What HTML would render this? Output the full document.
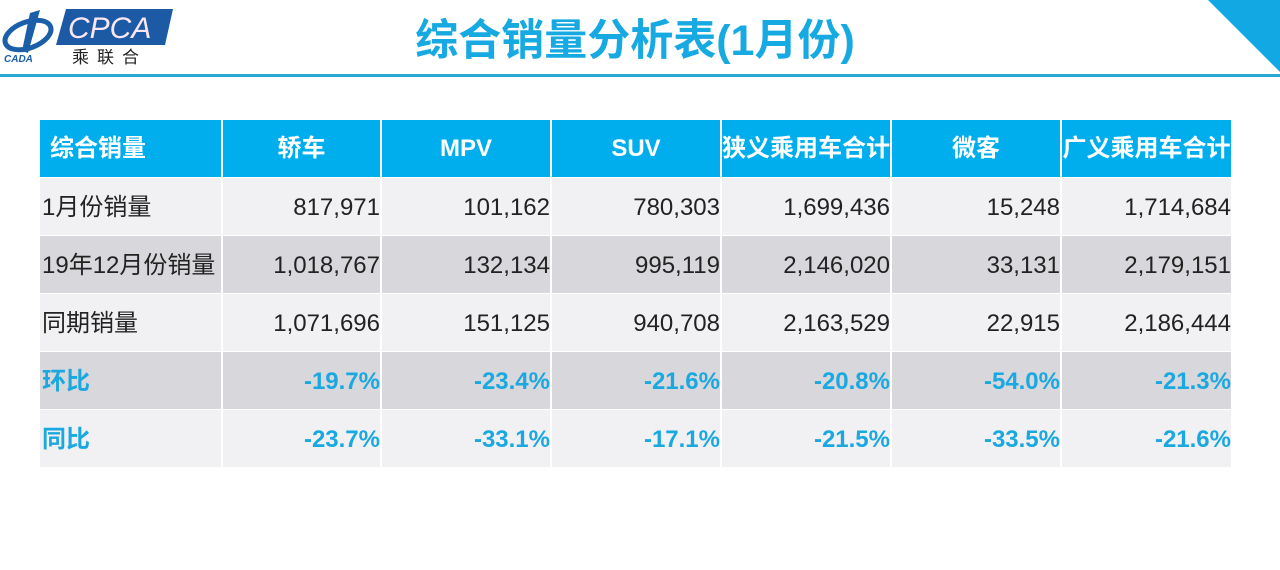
<!DOCTYPE html>
<html><head><meta charset="utf-8"><style>
body{margin:0;width:1280px;height:570px;background:#fff;position:relative;overflow:hidden;font-family:"Liberation Sans","Noto Sans CJK SC",sans-serif}
.title{position:absolute;left:0;width:1270px;top:6px;text-align:center;font-size:43px;font-weight:bold;color:#17a9e1}
.line{position:absolute;left:0;top:74px;width:1280px;height:3px;background:#29a9d6}
.tri{position:absolute;right:0;top:0;width:0;height:0;border-top:72px solid #12a8e4;border-left:72px solid transparent}
table{position:absolute;left:40px;top:120px;border-collapse:collapse;table-layout:fixed}
td{height:57px;padding:0;border-right:2px solid #fff;border-bottom:1px solid #fff;font-size:24px;line-height:30px;color:#222;text-align:right;white-space:nowrap;overflow:hidden;vertical-align:middle}
td span{display:inline-block;vertical-align:middle;position:relative;top:1px}
td:last-child{border-right:none}
td:first-child{text-align:left;padding-left:2px}
tr.h td{background:#00aeee;color:#fff;font-weight:bold;text-align:center;height:57px}
tr.h td:first-child{text-align:left;padding-left:10px}
tr.l td{background:#f1f1f4}
tr.d td{background:#d8d8dc}
tr.p td{color:#1aa8e0;font-weight:bold}
</style></head><body>
<svg style="position:absolute;left:0;top:5px" width="180" height="60">
<ellipse cx="28" cy="30" rx="24" ry="13" fill="none" stroke="#1b5fa8" stroke-width="5" transform="rotate(-20 28 30)"/>
<path d="M30 8 L40 5 L28 48 L22 46Z" fill="#1b5fa8"/>
<text x="4" y="57" font-size="10" font-weight="bold" font-style="italic" fill="#1b5fa8" font-family="Liberation Sans">CADA</text>
<path d="M66 4 L173 4 L165 40 L56 40Z" fill="#1d5aa6"/>
<text x="68" y="33" font-size="30" font-style="italic" fill="#fbe7f0" font-family="Liberation Sans">CPCA</text>
<text x="72" y="58" font-size="17" fill="#222" font-family="Noto Sans CJK SC" letter-spacing="8">乘联合</text>
</svg>
<div class="title">综合销量分析表(1月份)</div>
<div class="line"></div>
<div class="tri"></div>
<table>
<colgroup><col style="width:182px"><col style="width:159px"><col style="width:170px"><col style="width:170px"><col style="width:170px"><col style="width:170px"><col style="width:170px"></colgroup>
<tr class="h"><td>综合销量</td><td>轿车</td><td>MPV</td><td>SUV</td><td>狭义乘用车合计</td><td>微客</td><td>广义乘用车合计</td></tr>
<tr class="l"><td><span>1月份销量</span></td><td><span>817,971</span></td><td><span>101,162</span></td><td><span>780,303</span></td><td><span>1,699,436</span></td><td><span>15,248</span></td><td><span>1,714,684</span></td></tr>
<tr class="d"><td><span>19年12月份销量</span></td><td><span>1,018,767</span></td><td><span>132,134</span></td><td><span>995,119</span></td><td><span>2,146,020</span></td><td><span>33,131</span></td><td><span>2,179,151</span></td></tr>
<tr class="l"><td><span>同期销量</span></td><td><span>1,071,696</span></td><td><span>151,125</span></td><td><span>940,708</span></td><td><span>2,163,529</span></td><td><span>22,915</span></td><td><span>2,186,444</span></td></tr>
<tr class="d p"><td><span>环比</span></td><td><span>-19.7%</span></td><td><span>-23.4%</span></td><td><span>-21.6%</span></td><td><span>-20.8%</span></td><td><span>-54.0%</span></td><td><span>-21.3%</span></td></tr>
<tr class="l p"><td><span>同比</span></td><td><span>-23.7%</span></td><td><span>-33.1%</span></td><td><span>-17.1%</span></td><td><span>-21.5%</span></td><td><span>-33.5%</span></td><td><span>-21.6%</span></td></tr>
</table>
</body></html>
